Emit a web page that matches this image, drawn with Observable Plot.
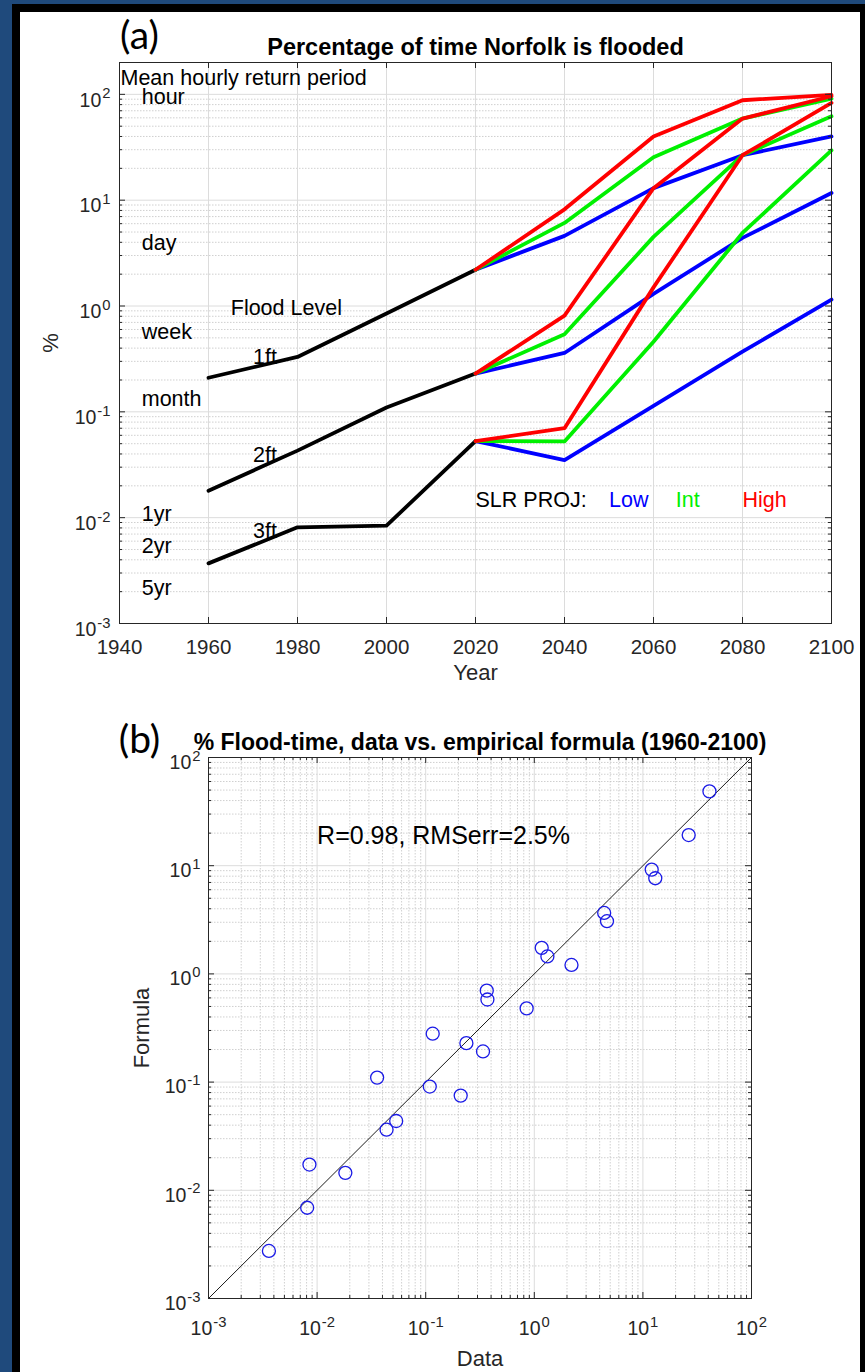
<!DOCTYPE html>
<html>
<head>
<meta charset="utf-8">
<script src="https://cdn.jsdelivr.net/npm/d3@7"></script>
<script src="https://cdn.jsdelivr.net/npm/@observablehq/plot@0.6"></script>
<style>
  html, body { margin: 0; padding: 0; background: #1F4A7C; width: 865px; height: 1372px; overflow: hidden; }
  #sheet { position: absolute; left: 12px; top: 4px; width: 840px; height: 1400px; border: 8px solid #000; border-bottom: none; background: #fff; }
  .panel { position: absolute; left: 0; width: 865px; }
  #pa { top: 0; }
  #pb { top: 690px; }
</style>
</head>
<body>
<div id="sheet"></div>
<div id="pa" class="panel"></div>
<div id="pb" class="panel"></div>
<script>
// ---------------- DATA: panel (a) ----------------
const histYears = [1960, 1980, 2000, 2020];
const hist1ft = [0.21, 0.33, 0.85, 2.2];
const hist2ft = [0.018, 0.043, 0.11, 0.23];
const hist3ft = [0.0037, 0.0081, 0.0084, 0.053];

const projYears = [2020, 2040, 2060, 2080, 2100];
const low1ft  = [2.2, 4.6, 13, 26.6, 40];
const int1ft  = [2.2, 6.1, 25.5, 59, 91];
const high1ft = [2.2, 8.2, 40, 88, 99];
const low2ft  = [0.23, 0.36, 1.3, 4.4, 11.7];
const int2ft  = [0.23, 0.54, 4.5, 26.6, 62];
const high2ft = [0.23, 0.81, 13, 59, 96];
const low3ft  = [0.053, 0.035, 0.114, 0.37, 1.15];
const int3ft  = [0.053, 0.0525, 0.46, 4.9, 29.6];
const high3ft = [0.053, 0.070, 1.5, 26.6, 83];

const levelNames = ["1ft", "2ft", "3ft"];
const scenarioNames = ["Low", "Int", "High"];
const scenarioColors = ["#0000ff", "#00f000", "#ff0000"];

// annotation labels (a)
const headerText = "Mean hourly return period";
const headerYear = 1940;
const headerPct = 140;
const periodLabels = ["hour", "day", "week", "month", "1yr", "2yr", "5yr"];
const periodPct = [100, 4.17, 0.595, 0.139, 0.0114, 0.0057, 0.00228];
const periodYear = 1945;
const floodLevelText = "Flood Level";
const floodLevelYear = 1965;
const floodLevelPct = 0.95;
const levelLabelYear = 1970;
const levelLabelPct = [0.33, 0.039, 0.0075];
const slrLabels = ["SLR PROJ:", "Low", "Int", "High"];
const slrColors = ["#000000", "#0000ff", "#00f000", "#ff0000"];
const slrYears = [2020, 2050, 2065, 2080];
const slrPct = 0.0145;

const xTicksA = [1940, 1960, 1980, 2000, 2020, 2040, 2060, 2080, 2100];
const decadesA = [1e-3, 1e-2, 1e-1, 1, 10, 100];
const minorMult = [2, 3, 4, 5, 6, 7, 8, 9];

// ---------------- DATA: panel (b) ----------------
const dataPct = [0.0036, 0.0081, 0.0085, 0.0182, 0.0357, 0.0436, 0.0535, 0.109, 0.116, 0.21, 0.237, 0.337,
                 0.365, 0.37, 0.85, 1.17, 1.32, 2.2, 4.4, 4.67, 12.05, 13.0, 26.4, 41];
const formulaPct = [0.00275, 0.0069, 0.0173, 0.0145, 0.11, 0.0363, 0.0437, 0.091, 0.28, 0.075, 0.229, 0.192,
                    0.70, 0.58, 0.48, 1.74, 1.45, 1.21, 3.66, 3.07, 9.2, 7.66, 19.2, 48.6];
const diagonal = [1e-3, 1e2];
const decadesB = [1e-3, 1e-2, 1e-1, 1, 10, 100];
const statsText = "R=0.98, RMSerr=2.5%";
const statsX = 0.01;
const statsY = 19;

// ---------------- helpers ----------------
const FONT = '"Liberation Sans", Arial, Helvetica, sans-serif';
const AXC = "#262626";
const GRID = "#dcdcdc";
const MINOR = "#c4c4c4";

function supify(svg) {
  svg.querySelectorAll("text").forEach(t => {
    const m = /^10\^(-?\d+)$/.exec(t.textContent);
    if (!m) return;
    t.textContent = "10";
    const ts = document.createElementNS("http://www.w3.org/2000/svg", "tspan");
    ts.setAttribute("dy", "-0.55em");
    ts.setAttribute("font-size", "0.76em");
    ts.setAttribute("dx", "1");
    ts.textContent = m[1];
    t.appendChild(ts);
  });
}
const expFmt = d => "10^" + Math.round(Math.log10(d));

// ---------------- panel (a) ----------------
const W = 865;
const A = {h: 690, ml: 119, mr: 34, mt: 62, mb: 67};
const fwA = W - A.ml - A.mr, fhA = A.h - A.mt - A.mb;
const minorA = decadesA.slice(0, -1).flatMap(d => minorMult.map(m => m * d));

const histSeries = [hist1ft, hist2ft, hist3ft];
const projSeries = {Low: [low1ft, low2ft, low3ft], Int: [int1ft, int2ft, int3ft], High: [high1ft, high2ft, high3ft]};
const histRows = histSeries.flatMap((s, i) => s.map((v, j) => ({year: histYears[j], pct: v, level: levelNames[i]})));
const projRows = scenarioNames.flatMap(sc => projSeries[sc].flatMap((s, i) =>
  s.map((v, j) => ({year: projYears[j], pct: v, level: levelNames[i], scen: sc}))));

const periodRows = periodLabels.map((t, i) => ({t, y: periodPct[i]}));
const levelRows = levelNames.map((t, i) => ({t, y: levelLabelPct[i]}));
const slrRows = slrLabels.map((t, i) => ({t, x: slrYears[i], c: slrColors[i]}));

const plotA = Plot.plot({
  width: W, height: A.h,
  marginLeft: A.ml, marginRight: A.mr, marginTop: A.mt, marginBottom: A.mb,
  style: {background: "transparent", fontFamily: FONT, fontSize: "20px", color: AXC, overflow: "visible"},
  x: {type: "linear", domain: [1940, 2100], label: null},
  y: {type: "log", domain: [1e-3, 200], label: null},
  color: {domain: scenarioNames, range: scenarioColors},
  marks: [
    Plot.ruleY(minorA, {stroke: MINOR, strokeWidth: 0.8, strokeDasharray: "1.5,1.5"}),
    Plot.ruleY(decadesA, {stroke: GRID}),
    Plot.ruleX(xTicksA, {stroke: GRID}),
    Plot.line(histRows, {x: "year", y: "pct", z: "level", stroke: "#000", strokeWidth: 3.8, strokeLinejoin: "round"}),
    Plot.line(projRows, {x: "year", y: "pct", z: d => d.scen + d.level, stroke: "scen", strokeWidth: 3.8, strokeLinejoin: "round"}),
    Plot.text([headerText], {x: () => headerYear, y: () => headerPct, textAnchor: "start", dx: 1, dy: -1, fontSize: 21.5, fill: "#000"}),
    Plot.text(periodRows, {x: () => periodYear, y: "y", text: "t", textAnchor: "start", dy: 2.5, fontSize: 21.5, fill: "#000"}),
    Plot.text([floodLevelText], {x: () => floodLevelYear, y: () => floodLevelPct, textAnchor: "start", fontSize: 21.5, fill: "#000"}),
    Plot.text(levelRows, {x: () => levelLabelYear, y: "y", text: "t", textAnchor: "start", fontSize: 21.5, fill: "#000"}),
    Plot.text(slrRows, {x: "x", y: () => slrPct, text: "t", fill: d => d.c, textAnchor: "start", fontSize: 21.5}),
    Plot.frame({stroke: AXC}),
    Plot.tickX(xTicksA, {insetTop: fhA - 6, stroke: AXC}),
    Plot.tickX(xTicksA, {insetBottom: fhA - 6, stroke: AXC}),
    Plot.tickY(decadesA, {insetRight: fwA - 6, stroke: AXC}),
    Plot.tickY(decadesA, {insetLeft: fwA - 6, stroke: AXC}),
    Plot.tickY(minorA, {insetRight: fwA - 3, stroke: AXC}),
    Plot.tickY(minorA, {insetLeft: fwA - 3, stroke: AXC}),
    Plot.axisX(xTicksA, {tickSize: 0, tickPadding: 16, tickFormat: d => String(d), label: null, fontSize: 20.5}),
    Plot.axisY(decadesA, {tickSize: 0, tickPadding: 9, tickFormat: expFmt, label: null, dy: 6, fontSize: 19.5}),
    Plot.text(["(a)"], {frameAnchor: "top-left", textAnchor: "middle", lineAnchor: "middle", dx: 20, dy: -26, fontSize: 39, fontFamily: "Lato, 'Open Sans', sans-serif", fill: "#000"}),
    Plot.text(["Percentage of time Norfolk is flooded"], {frameAnchor: "top", textAnchor: "middle", lineAnchor: "middle", dy: -15, fontSize: 23.5, fontWeight: "bold", fill: "#000"}),
    Plot.text(["%"], {frameAnchor: "left", textAnchor: "middle", lineAnchor: "middle", dx: -69, rotate: -90, fontSize: 22, fill: AXC}),
    Plot.text(["Year"], {frameAnchor: "bottom", textAnchor: "middle", lineAnchor: "middle", dy: 49, fontSize: 22, fill: AXC})
  ]
});
supify(plotA);
document.getElementById("pa").appendChild(plotA);

// ---------------- panel (b) ----------------
const B = {h: 682, ml: 208, mr: 114, mt: 67, mb: 74};
const fwB = W - B.ml - B.mr, fhB = B.h - B.mt - B.mb;
const minorB = decadesB.slice(0, -1).flatMap(d => minorMult.map(m => m * d));
const pts = dataPct.map((x, i) => ({x, y: formulaPct[i]}));

const plotB = Plot.plot({
  width: W, height: B.h,
  marginLeft: B.ml, marginRight: B.mr, marginTop: B.mt, marginBottom: B.mb,
  style: {background: "transparent", fontFamily: FONT, fontSize: "20px", color: AXC, overflow: "visible"},
  x: {type: "log", domain: [1e-3, 1e2], label: null},
  y: {type: "log", domain: [1e-3, 1e2], label: null},
  marks: [
    Plot.ruleX(minorB, {stroke: MINOR, strokeWidth: 0.8, strokeDasharray: "1.5,1.5"}),
    Plot.ruleY(minorB, {stroke: MINOR, strokeWidth: 0.8, strokeDasharray: "1.5,1.5"}),
    Plot.ruleX(decadesB, {stroke: GRID}),
    Plot.ruleY(decadesB, {stroke: GRID}),
    Plot.line(diagonal, {x: d => d, y: d => d, stroke: "#000", strokeWidth: 0.9}),
    Plot.dot(pts, {x: "x", y: "y", r: 6.5, stroke: "#1a1ae6", strokeWidth: 1.3, fill: "none"}),
    Plot.text([statsText], {x: () => statsX, y: () => statsY, textAnchor: "start", fontSize: 25, fill: "#000"}),
    Plot.frame({stroke: AXC}),
    Plot.tickX(decadesB, {insetTop: fhB - 6, stroke: AXC}),
    Plot.tickX(decadesB, {insetBottom: fhB - 6, stroke: AXC}),
    Plot.tickX(minorB, {insetTop: fhB - 3, stroke: AXC}),
    Plot.tickX(minorB, {insetBottom: fhB - 3, stroke: AXC}),
    Plot.tickY(decadesB, {insetRight: fwB - 6, stroke: AXC}),
    Plot.tickY(decadesB, {insetLeft: fwB - 6, stroke: AXC}),
    Plot.tickY(minorB, {insetRight: fwB - 3, stroke: AXC}),
    Plot.tickY(minorB, {insetLeft: fwB - 3, stroke: AXC}),
    Plot.axisX(decadesB, {tickSize: 0, tickPadding: 23, tickFormat: expFmt, label: null, fontSize: 19.5}),
    Plot.axisY(decadesB, {tickSize: 0, tickPadding: 8, tickFormat: expFmt, label: null, dy: 5, fontSize: 19.5}),
    Plot.text(["(b)"], {frameAnchor: "top-left", textAnchor: "middle", lineAnchor: "middle", dx: -69, dy: -17, fontSize: 39, fontFamily: "Lato, 'Open Sans', sans-serif", fill: "#000"}),
    Plot.text(["% Flood-time, data vs. empirical formula (1960-2100)"], {frameAnchor: "top", textAnchor: "middle", lineAnchor: "middle", dy: -15.3, fontSize: 23, fontWeight: "bold", fill: "#000"}),
    Plot.text(["Formula"], {frameAnchor: "left", textAnchor: "middle", lineAnchor: "middle", dx: -66.5, rotate: -90, fontSize: 22, fill: AXC}),
    Plot.text(["Data"], {frameAnchor: "bottom", textAnchor: "middle", lineAnchor: "middle", dy: 60, fontSize: 22, fill: AXC})
  ]
});
supify(plotB);
document.getElementById("pb").appendChild(plotB);
</script>
</body>
</html>
